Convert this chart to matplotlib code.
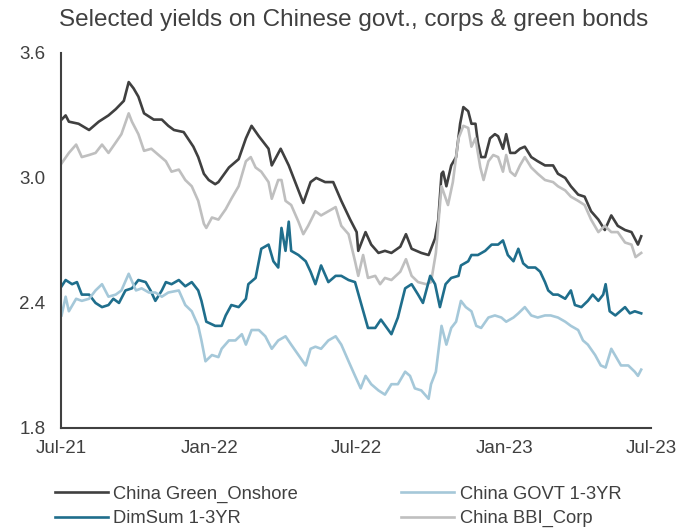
import pandas as pd
import matplotlib
matplotlib.use("Agg")
import matplotlib.pyplot as plt

plt.rcParams['font.family'] = ['Liberation Sans', 'DejaVu Sans']

# data
green_dates = ["2021-07-02", "2021-07-07", "2021-07-11", "2021-07-23", "2021-08-05", "2021-08-17", "2021-08-29",
               "2021-09-07", "2021-09-17", "2021-09-23", "2021-09-29", "2021-10-05", "2021-10-12", "2021-10-24",
               "2021-11-03", "2021-11-11", "2021-11-18", "2021-11-30", "2021-12-12", "2021-12-18", "2021-12-25",
               "2021-12-31", "2022-01-08", "2022-01-12", "2022-01-25", "2022-02-06", "2022-02-15", "2022-02-22",
               "2022-03-03", "2022-03-15", "2022-03-19", "2022-03-30", "2022-04-09", "2022-04-19", "2022-04-27",
               "2022-05-06", "2022-05-13", "2022-05-24", "2022-06-03", "2022-06-13", "2022-06-24", "2022-07-02",
               "2022-07-04", "2022-07-13", "2022-07-20", "2022-07-29", "2022-08-06", "2022-08-14", "2022-08-25",
               "2022-09-01", "2022-09-08", "2022-09-20", "2022-09-29", "2022-10-07", "2022-10-11", "2022-10-15",
               "2022-10-17", "2022-10-21", "2022-10-27", "2022-11-02", "2022-11-07", "2022-11-11", "2022-11-17",
               "2022-11-21", "2022-11-26", "2022-11-29", "2022-12-03", "2022-12-08", "2022-12-14", "2022-12-20",
               "2022-12-24", "2022-12-30", "2023-01-03", "2023-01-08", "2023-01-14", "2023-01-20", "2023-01-26",
               "2023-02-03", "2023-02-11", "2023-02-20", "2023-03-02", "2023-03-08", "2023-03-17", "2023-03-24",
               "2023-04-02", "2023-04-10", "2023-04-18", "2023-04-27", "2023-05-05", "2023-05-13", "2023-05-21",
               "2023-05-30", "2023-06-07", "2023-06-15", "2023-06-19"]
green_vals = [3.28, 3.30, 3.27, 3.26, 3.23, 3.27, 3.30,
              3.33, 3.37, 3.46, 3.43, 3.39, 3.31, 3.28,
              3.28, 3.25, 3.23, 3.22, 3.15, 3.10, 3.02,
              2.99, 2.97, 2.98, 3.05, 3.09, 3.19, 3.25,
              3.20, 3.14, 3.06, 3.14, 3.06, 2.96, 2.88,
              2.98, 3.00, 2.98, 2.98, 2.89, 2.80, 2.74,
              2.65, 2.74, 2.68, 2.64, 2.65, 2.64, 2.67,
              2.73, 2.66, 2.64, 2.63, 2.71, 2.80, 3.02,
              3.03, 2.96, 3.06, 3.10, 3.26, 3.34, 3.32,
              3.26, 3.26, 3.17, 3.10, 3.10, 3.19, 3.21,
              3.20, 3.14, 3.21, 3.12, 3.12, 3.14, 3.15,
              3.10, 3.08, 3.06, 3.06, 3.02, 3.00, 2.96,
              2.92, 2.91, 2.84, 2.80, 2.75, 2.82, 2.77,
              2.75, 2.74, 2.68, 2.72]

bbi_dates = ["2021-07-02", "2021-07-11", "2021-07-20", "2021-07-27", "2021-08-05", "2021-08-13", "2021-08-21",
             "2021-08-29", "2021-09-07", "2021-09-14", "2021-09-23", "2021-09-27", "2021-10-05", "2021-10-12",
             "2021-10-21", "2021-10-30", "2021-11-08", "2021-11-15", "2021-11-24", "2021-12-02", "2021-12-10",
             "2021-12-18", "2021-12-25", "2021-12-28", "2022-01-04", "2022-01-12", "2022-01-21", "2022-01-28",
             "2022-02-06", "2022-02-15", "2022-02-21", "2022-02-27", "2022-03-06", "2022-03-15", "2022-03-19",
             "2022-03-27", "2022-03-31", "2022-04-05", "2022-04-12", "2022-04-21", "2022-04-27", "2022-05-03",
             "2022-05-12", "2022-05-19", "2022-05-28", "2022-06-06", "2022-06-13", "2022-06-22", "2022-06-30",
             "2022-07-04", "2022-07-10", "2022-07-16", "2022-07-25", "2022-07-31", "2022-08-06", "2022-08-14",
             "2022-08-25", "2022-09-01", "2022-09-08", "2022-09-16", "2022-09-26", "2022-10-02", "2022-10-08",
             "2022-10-15", "2022-10-23", "2022-10-29", "2022-11-05", "2022-11-11", "2022-11-17", "2022-11-21",
             "2022-11-26", "2022-12-02", "2022-12-06", "2022-12-12", "2022-12-18", "2022-12-24", "2022-12-30",
             "2023-01-03", "2023-01-08", "2023-01-14", "2023-01-20", "2023-01-26", "2023-02-03", "2023-02-11",
             "2023-02-20", "2023-03-02", "2023-03-08", "2023-03-17", "2023-03-24", "2023-04-02", "2023-04-10",
             "2023-04-18", "2023-04-27", "2023-05-05", "2023-05-13", "2023-05-21", "2023-05-30", "2023-06-07",
             "2023-06-12", "2023-06-19"]
bbi_vals = [3.07, 3.12, 3.16, 3.10, 3.11, 3.12, 3.16,
            3.12, 3.17, 3.21, 3.31, 3.27, 3.21, 3.13,
            3.14, 3.11, 3.08, 3.03, 3.04, 2.99, 2.96,
            2.89, 2.78, 2.76, 2.81, 2.80, 2.85, 2.90,
            2.96, 3.08, 3.10, 3.05, 3.03, 2.98, 2.90,
            2.99, 2.99, 2.89, 2.87, 2.79, 2.73, 2.77,
            2.84, 2.82, 2.84, 2.86, 2.77, 2.73, 2.60,
            2.53, 2.63, 2.52, 2.53, 2.49, 2.52, 2.51,
            2.55, 2.61, 2.53, 2.50, 2.49, 2.50, 2.64,
            2.96, 2.87, 2.98, 3.19, 3.25, 3.24, 3.15,
            3.19, 3.05, 2.99, 3.08, 3.11, 3.10, 3.03,
            3.11, 3.03, 3.01, 3.06, 3.10, 3.05, 3.02,
            2.99, 2.98, 2.96, 2.94, 2.91, 2.89, 2.87,
            2.80, 2.74, 2.77, 2.74, 2.74, 2.69, 2.68,
            2.62, 2.64]

dimsum_dates = ["2021-07-02", "2021-07-07", "2021-07-15", "2021-07-21", "2021-07-27", "2021-08-05", "2021-08-13",
                "2021-08-21", "2021-08-29", "2021-09-04", "2021-09-11", "2021-09-19", "2021-09-27", "2021-10-05",
                "2021-10-14", "2021-10-20", "2021-10-26", "2021-11-03", "2021-11-08", "2021-11-15", "2021-11-24",
                "2021-12-02", "2021-12-10", "2021-12-18", "2021-12-22", "2021-12-28", "2022-01-08", "2022-01-16",
                "2022-01-21", "2022-01-28", "2022-02-06", "2022-02-15", "2022-02-18", "2022-02-27", "2022-03-06",
                "2022-03-15", "2022-03-21", "2022-03-27", "2022-03-31", "2022-04-05", "2022-04-09", "2022-04-12",
                "2022-04-21", "2022-04-30", "2022-05-06", "2022-05-12", "2022-05-19", "2022-05-28", "2022-06-06",
                "2022-06-13", "2022-06-22", "2022-06-30", "2022-07-08", "2022-07-16", "2022-07-25", "2022-08-01",
                "2022-08-14", "2022-08-22", "2022-08-31", "2022-09-08", "2022-09-16", "2022-09-22", "2022-10-01",
                "2022-10-07", "2022-10-13", "2022-10-20", "2022-10-27", "2022-11-05", "2022-11-08", "2022-11-17",
                "2022-11-21", "2022-11-29", "2022-12-08", "2022-12-16", "2022-12-24", "2022-12-30", "2023-01-05",
                "2023-01-12", "2023-01-18", "2023-01-24", "2023-01-30", "2023-02-08", "2023-02-14", "2023-02-20",
                "2023-02-24", "2023-03-02", "2023-03-08", "2023-03-17", "2023-03-24", "2023-03-29", "2023-04-06",
                "2023-04-14", "2023-04-20", "2023-04-27", "2023-05-03", "2023-05-06", "2023-05-11", "2023-05-18",
                "2023-05-24", "2023-05-30", "2023-06-05", "2023-06-11", "2023-06-19"]
dimsum_vals = [2.48, 2.51, 2.49, 2.50, 2.44, 2.44, 2.40,
               2.38, 2.39, 2.42, 2.40, 2.46, 2.47, 2.51,
               2.50, 2.46, 2.41, 2.46, 2.50, 2.49, 2.51,
               2.48, 2.50, 2.46, 2.41, 2.31, 2.29, 2.29,
               2.34, 2.39, 2.38, 2.42, 2.49, 2.52, 2.66,
               2.68, 2.60, 2.57, 2.76, 2.65, 2.79, 2.65,
               2.63, 2.60, 2.55, 2.49, 2.58, 2.50, 2.53,
               2.53, 2.51, 2.50, 2.39, 2.28, 2.28, 2.32,
               2.25, 2.33, 2.47, 2.49, 2.44, 2.40, 2.53,
               2.49, 2.38, 2.49, 2.52, 2.53, 2.58, 2.60,
               2.63, 2.63, 2.65, 2.68, 2.68, 2.70, 2.63,
               2.60, 2.66, 2.59, 2.57, 2.57, 2.55, 2.50,
               2.46, 2.44, 2.44, 2.42, 2.46, 2.39, 2.38,
               2.41, 2.44, 2.41, 2.44, 2.49, 2.36, 2.34,
               2.36, 2.38, 2.35, 2.36, 2.35]

govt_dates = ["2021-07-02", "2021-07-07", "2021-07-11", "2021-07-20", "2021-07-27", "2021-08-05", "2021-08-13",
              "2021-08-21", "2021-08-29", "2021-09-07", "2021-09-14", "2021-09-23", "2021-10-02", "2021-10-09",
              "2021-10-18", "2021-10-26", "2021-11-03", "2021-11-11", "2021-11-24", "2021-12-02", "2021-12-10",
              "2021-12-18", "2021-12-22", "2021-12-27", "2022-01-04", "2022-01-12", "2022-01-16", "2022-01-25",
              "2022-02-02", "2022-02-10", "2022-02-15", "2022-02-22", "2022-03-03", "2022-03-11", "2022-03-19",
              "2022-03-27", "2022-04-05", "2022-04-12", "2022-04-21", "2022-04-30", "2022-05-06", "2022-05-12",
              "2022-05-19", "2022-05-28", "2022-06-06", "2022-06-13", "2022-06-22", "2022-06-30", "2022-07-07",
              "2022-07-13", "2022-07-20", "2022-07-29", "2022-08-06", "2022-08-14", "2022-08-22", "2022-08-31",
              "2022-09-06", "2022-09-12", "2022-09-20", "2022-09-29", "2022-10-02", "2022-10-08", "2022-10-15",
              "2022-10-21", "2022-10-27", "2022-11-02", "2022-11-08", "2022-11-14", "2022-11-21", "2022-11-27",
              "2022-12-03", "2022-12-12", "2022-12-20", "2022-12-28", "2023-01-03", "2023-01-12", "2023-01-18",
              "2023-01-26", "2023-02-03", "2023-02-11", "2023-02-20", "2023-02-27", "2023-03-08", "2023-03-17",
              "2023-03-24", "2023-04-02", "2023-04-08", "2023-04-14", "2023-04-23", "2023-04-30", "2023-05-06",
              "2023-05-13", "2023-05-19", "2023-05-25", "2023-06-03", "2023-06-11", "2023-06-15", "2023-06-19"]
govt_vals = [2.34, 2.43, 2.36, 2.42, 2.41, 2.42, 2.46,
             2.49, 2.43, 2.44, 2.46, 2.54, 2.46, 2.47,
             2.45, 2.45, 2.43, 2.45, 2.46, 2.39, 2.36,
             2.29, 2.22, 2.12, 2.15, 2.14, 2.18, 2.22,
             2.22, 2.25, 2.20, 2.27, 2.27, 2.24, 2.18,
             2.22, 2.24, 2.20, 2.15, 2.10, 2.18, 2.19,
             2.18, 2.22, 2.24, 2.20, 2.12, 2.05, 1.99,
             2.05, 2.01, 1.98, 1.96, 2.01, 2.01, 2.07,
             2.05, 1.99, 1.98, 1.94, 2.01, 2.07, 2.29,
             2.20, 2.28, 2.31, 2.41, 2.38, 2.36, 2.29,
             2.28, 2.33, 2.34, 2.33, 2.31, 2.33, 2.35,
             2.38, 2.34, 2.33, 2.34, 2.34, 2.33, 2.31,
             2.29, 2.27, 2.22, 2.20, 2.15, 2.10, 2.09,
             2.18, 2.14, 2.10, 2.10, 2.07, 2.05, 2.08]

tick_dates = ["2021-07-01", "2022-01-01", "2022-07-01", "2023-01-01", "2023-07-01"]
tick_labels = ["Jul-21", "Jan-22", "Jul-22", "Jan-23", "Jul-23"]
y_ticks = [1.8, 2.4, 3.0, 3.6]

text_col = "#404040"

#plotting
fig = plt.figure(figsize=(6.83, 5.29), dpi=100)
ax = fig.add_axes([0.089, 0.191, 0.864, 0.709])

ax.plot(pd.to_datetime(green_dates), green_vals, color="#404040", lw=1.9, label="China Green_Onshore")
ax.plot(pd.to_datetime(bbi_dates), bbi_vals, color="#BFBFBF", lw=1.9, label="China BBI_Corp")
ax.plot(pd.to_datetime(dimsum_dates), dimsum_vals, color="#1F6E8C", lw=1.9, label="DimSum 1-3YR")
ax.plot(pd.to_datetime(govt_dates), govt_vals, color="#A5C8D9", lw=1.9, label="China GOVT 1-3YR")

ax.set_xlim(pd.Timestamp(tick_dates[0]), pd.Timestamp(tick_dates[-1]))
ax.set_ylim(y_ticks[0], y_ticks[-1])
ax.set_xticks(pd.to_datetime(tick_dates))
ax.set_xticklabels(tick_labels)
ax.set_yticks(y_ticks)
ax.set_yticklabels([f"{v:.1f}" for v in y_ticks])
ax.tick_params(axis="both", length=0, labelsize=13.5, colors=text_col)
ax.tick_params(axis="x", pad=9)
ax.tick_params(axis="y", pad=11)

for side in ["top", "right"]:
    ax.spines[side].set_visible(False)
for side in ["left", "bottom"]:
    ax.spines[side].set_color("#404040")
    ax.spines[side].set_linewidth(1.5)

fig.text(0.518, 0.963, "Selected yields on Chinese govt., corps & green bonds",
         ha="center", va="center", fontsize=17.5, color=text_col)

# legend order: column 1 = Green, DimSum ; column 2 = GOVT, BBI
h, l = ax.get_legend_handles_labels()
order = [0, 2, 3, 1]
fig.legend([h[i] for i in order], [l[i] for i in order], ncol=2, loc="upper left",
           bbox_to_anchor=(0.080, 0.082), frameon=False, fontsize=13.2,
           handlelength=2.9, handletextpad=0.3, columnspacing=5.6, labelspacing=0.4,
           borderpad=0, borderaxespad=0, labelcolor=text_col)

plt.savefig("out.png", dpi=100)
